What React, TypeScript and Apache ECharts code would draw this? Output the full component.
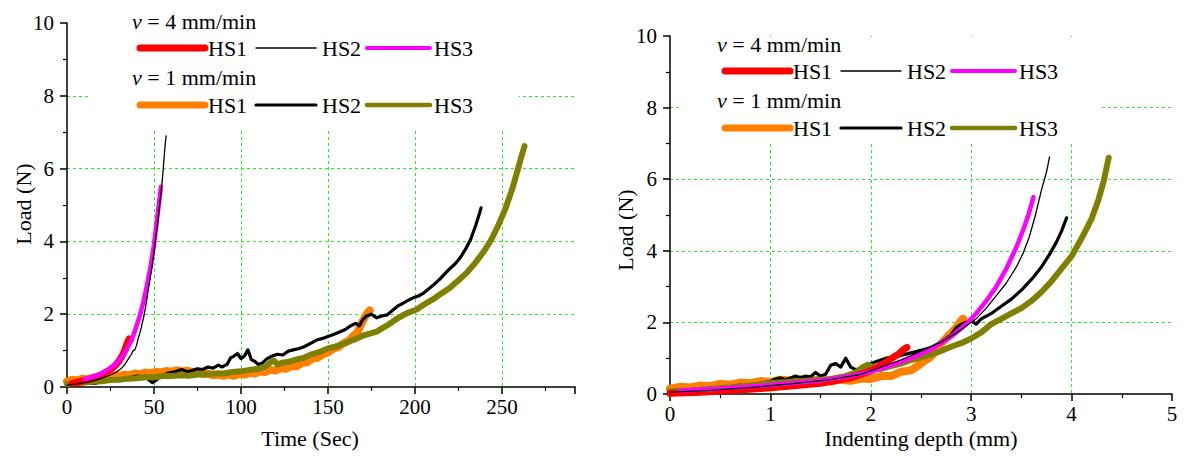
import React, { useEffect, useRef } from 'react';
import * as echarts from 'echarts';

// ---------- Data: Load (N) vs Time (Sec) ----------
const timeV4HS1 = [[3,0.1],[6,0.13],[9,0.17],[12,0.2],[15,0.24],[18,0.3],[21,0.37],[24,0.45],[26,0.52],[28,0.6],[30,0.72],[32,0.88],[33,0.98],[34,1.12],[35,1.25],[35.8,1.32],[36.3,1.28]];
const timeV4HS2 = [[0,0.05],[5,0.08],[10,0.12],[15,0.17],[20,0.24],[25,0.33],[28,0.4],[31,0.5],[33,0.6],[35,0.75],[37,0.9],[38,1.0],[39,1.02],[40,1.15],[41,1.35],[42,1.5],[43,1.7],[44,1.9],[45,2.15],[46,2.45],[47,2.75],[48,3.05],[49,3.35],[50,3.7],[51,4.1],[52,4.45],[53,4.9],[54,5.3],[55,5.8],[55.8,6.3],[56.5,6.7],[57,6.9]];
const timeV4HS3 = [[10,0.22],[14,0.27],[18,0.33],[22,0.42],[26,0.55],[29,0.68],[32,0.85],[34,1.0],[36,1.18],[38,1.4],[40,1.68],[42,1.98],[44,2.35],[46,2.8],[48,3.3],[50,3.9],[51,4.3],[52,4.7],[53,5.1],[54,5.5]];
const timeV1HS1 = [[0,0.15],[3,0.2],[6,0.18],[9,0.23],[12,0.21],[15,0.26],[18,0.24],[21,0.29],[24,0.27],[27,0.32],[30,0.3],[33,0.34],[36,0.32],[39,0.37],[42,0.35],[45,0.4],[48,0.37],[51,0.42],[54,0.4],[57,0.44],[60,0.42],[63,0.46],[66,0.43],[69,0.45],[72,0.41],[75,0.42],[78,0.36],[81,0.37],[84,0.32],[87,0.34],[90,0.31],[93,0.34],[96,0.31],[99,0.36],[102,0.34],[105,0.39],[108,0.37],[111,0.43],[114,0.41],[117,0.47],[120,0.45],[123,0.52],[126,0.5],[129,0.58],[132,0.57],[135,0.66],[138,0.68],[141,0.78],[144,0.8],[147,0.9],[150,0.95],[153,1.05],[156,1.1],[159,1.2],[162,1.27],[165,1.42],[167,1.5],[169,1.72],[171,1.9],[173,2.05],[174,2.1]];
const timeV1HS2 = [[0,0.05],[4,0.06],[8,0.1],[12,0.12],[16,0.1],[20,0.15],[24,0.18],[28,0.2],[32,0.22],[36,0.25],[40,0.3],[44,0.28],[47,0.2],[49,0.12],[51,0.18],[54,0.3],[58,0.38],[62,0.42],[66,0.48],[69,0.42],[72,0.45],[75,0.5],[78,0.48],[81,0.55],[84,0.52],[87,0.6],[89,0.55],[92,0.62],[94,0.8],[96,0.85],[98,0.92],[100,0.78],[102,0.85],[104,1.02],[106,0.75],[108,0.7],[110,0.62],[112,0.65],[115,0.78],[118,0.85],[121,0.9],[124,0.88],[127,0.98],[130,1.02],[133,1.05],[136,1.1],[140,1.2],[144,1.3],[148,1.35],[152,1.42],[156,1.5],[160,1.58],[163,1.68],[166,1.75],[168,1.68],[170,1.85],[172,1.95],[175,2.0],[178,1.9],[181,1.95],[184,1.98],[187,2.1],[190,2.22],[193,2.3],[196,2.38],[199,2.45],[202,2.5],[205,2.58],[208,2.7],[211,2.82],[214,2.95],[217,3.1],[220,3.25],[223,3.38],[226,3.55],[229,3.78],[232,4.05],[235,4.45],[237,4.75],[238,4.92]];
const timeV1HS3 = [[0,0.08],[5,0.11],[10,0.12],[15,0.15],[20,0.16],[25,0.19],[30,0.2],[35,0.23],[40,0.24],[45,0.27],[50,0.27],[55,0.3],[60,0.3],[65,0.32],[70,0.31],[75,0.34],[80,0.34],[85,0.37],[90,0.37],[95,0.41],[100,0.43],[105,0.47],[110,0.5],[114,0.56],[117,0.68],[119,0.72],[121,0.62],[124,0.67],[128,0.7],[132,0.76],[136,0.8],[140,0.89],[145,0.96],[150,1.06],[155,1.12],[160,1.21],[165,1.3],[170,1.41],[175,1.48],[178,1.52],[181,1.61],[185,1.72],[189,1.86],[193,1.97],[197,2.06],[201,2.13],[205,2.26],[210,2.4],[215,2.56],[220,2.72],[225,2.93],[230,3.15],[235,3.43],[240,3.75],[244,4.06],[248,4.45],[252,4.9],[256,5.45],[259,5.95],[261,6.3],[263,6.62]];

// ---------- Data: Load (N) vs Indenting depth (mm) ----------
const depthV4HS1 = [[0,0.02],[0.3,0.05],[0.6,0.1],[0.9,0.15],[1.2,0.22],[1.5,0.3],[1.8,0.45],[2.0,0.65],[2.1,0.8],[2.2,0.98],[2.28,1.12],[2.33,1.25],[2.36,1.3]];
const depthV4HS2 = [[0,0.05],[0.4,0.1],[0.8,0.18],[1.2,0.28],[1.6,0.4],[1.9,0.55],[2.1,0.75],[2.3,0.95],[2.5,1.2],[2.7,1.45],[2.85,1.7],[2.95,1.9],[3.05,2.1],[3.15,2.4],[3.25,2.75],[3.35,3.1],[3.45,3.55],[3.52,3.95],[3.58,4.4],[3.64,5.0],[3.7,5.7],[3.75,6.2],[3.78,6.62]];
const depthV4HS3 = [[0.1,0.1],[0.5,0.15],[1.0,0.25],[1.5,0.38],[1.8,0.5],[2.0,0.62],[2.2,0.8],[2.4,1.0],[2.6,1.25],[2.8,1.6],[2.95,1.95],[3.05,2.25],[3.15,2.6],[3.25,3.0],[3.35,3.5],[3.45,4.1],[3.52,4.6],[3.57,5.0],[3.62,5.5]];
const depthV1HS1 = [[0,0.15],[0.1,0.2],[0.2,0.18],[0.3,0.24],[0.4,0.22],[0.5,0.28],[0.6,0.26],[0.7,0.32],[0.8,0.3],[0.9,0.36],[1.0,0.34],[1.1,0.4],[1.2,0.38],[1.3,0.42],[1.4,0.38],[1.5,0.4],[1.6,0.35],[1.7,0.4],[1.8,0.37],[1.9,0.43],[2.0,0.42],[2.1,0.5],[2.2,0.5],[2.3,0.62],[2.4,0.66],[2.5,0.85],[2.6,1.05],[2.7,1.4],[2.78,1.65],[2.85,1.85],[2.9,2.05],[2.92,2.1]];
const depthV1HS2 = [[0,0.05],[0.1,0.06],[0.2,0.1],[0.3,0.12],[0.4,0.15],[0.5,0.18],[0.6,0.2],[0.7,0.25],[0.75,0.18],[0.8,0.25],[0.9,0.3],[1.0,0.35],[1.05,0.42],[1.1,0.45],[1.15,0.4],[1.2,0.45],[1.25,0.5],[1.3,0.45],[1.35,0.5],[1.4,0.48],[1.45,0.6],[1.5,0.5],[1.55,0.55],[1.6,0.8],[1.65,0.85],[1.7,0.75],[1.75,1.0],[1.8,0.75],[1.85,0.68],[1.9,0.7],[1.95,0.75],[2.0,0.85],[2.05,0.9],[2.1,0.95],[2.15,1.0],[2.2,1.02],[2.3,1.08],[2.4,1.15],[2.5,1.22],[2.6,1.3],[2.7,1.45],[2.75,1.55],[2.8,1.65],[2.85,1.85],[2.9,1.95],[3.0,2.05],[3.05,1.95],[3.1,2.1],[3.2,2.25],[3.3,2.45],[3.4,2.65],[3.5,2.9],[3.6,3.2],[3.7,3.55],[3.78,3.9],[3.85,4.25],[3.9,4.55],[3.95,4.92]];
const depthV1HS3 = [[0,0.08],[0.2,0.1],[0.4,0.14],[0.6,0.18],[0.8,0.24],[1.0,0.3],[1.2,0.34],[1.4,0.38],[1.6,0.42],[1.75,0.5],[1.85,0.6],[1.92,0.75],[1.97,0.82],[2.0,0.78],[2.05,0.72],[2.1,0.7],[2.2,0.78],[2.3,0.85],[2.4,0.95],[2.5,1.02],[2.6,1.1],[2.7,1.2],[2.8,1.32],[2.9,1.42],[3.0,1.55],[3.1,1.72],[3.2,1.95],[3.3,2.1],[3.4,2.25],[3.5,2.4],[3.6,2.6],[3.7,2.85],[3.8,3.15],[3.9,3.5],[4.0,3.85],[4.1,4.35],[4.2,4.9],[4.27,5.45],[4.32,5.95],[4.37,6.6]];

// ---------- Labels ----------
const yAxisTitle = 'Load (N)';
const xAxisTitleLeft = 'Time (Sec)';
const xAxisTitleRight = 'Indenting depth (mm)';
const speedLabels = ['4', '1'];
const specimenNames = ['HS1', 'HS2', 'HS3'];

const FONT = "'Liberation Serif', 'Times New Roman', serif";
const GRID_GREEN = '#22ee22';

export default function App() {
  const ref = useRef<HTMLDivElement>(null);

  useEffect(() => {
    const chart = echarts.init(ref.current!, null, { renderer: 'svg' });

    const axisBase = {
      axisLine: { show: true, onZero: false, lineStyle: { color: '#000', width: 1.5 } },
      axisTick: { show: true, inside: false, length: 7, lineStyle: { color: '#000', width: 1.5 } },
      minorTick: { show: true, splitNumber: 2, length: 4, lineStyle: { color: '#000', width: 1.2 } },
      splitLine: {
        show: true, showMinLine: false, showMaxLine: false,
        lineStyle: { color: GRID_GREEN, type: [3, 3], width: 1 },
      },
      axisLabel: { color: '#000', fontFamily: FONT, fontSize: 21 },
    };

    const mk = (name: string, data: number[][], color: string, width: number, idx: number) => ({
      name, type: 'line', data, xAxisIndex: idx, yAxisIndex: idx,
      showSymbol: false, symbol: 'none', silent: true,
      lineStyle: { color, width, join: 'round', cap: 'round' },
    });

    const seriesFor = (idx: number, d: number[][][]) => [
      mk('v1 ' + specimenNames[0], d[3], '#ff8000', 8, idx),
      mk('v1 ' + specimenNames[1], d[4], '#000000', 3.2, idx),
      mk('v1 ' + specimenNames[2], d[5], '#808000', 6, idx),
      mk('v4 ' + specimenNames[0], d[0], '#ff0000', 7, idx),
      mk('v4 ' + specimenNames[2], d[2], '#ff00ff', 4.5, idx),
      mk('v4 ' + specimenNames[1], d[1], '#000000', 1.3, idx),
    ];

    const txt = (text: string, x: number, y: number, size = 22) => ({
      type: 'text', z: 10, x, y,
      style: {
        text, fill: '#000', fontSize: size, fontFamily: FONT,
        align: 'left', verticalAlign: 'middle',
        textAlign: 'left', textVerticalAlign: 'middle',
        rich: { i: { fontStyle: 'italic', fontSize: size, fontFamily: FONT, fill: '#000' } },
      },
    });
    const seg = (x1: number, x2: number, y: number, color: string, w: number) => ({
      type: 'line', z: 10,
      shape: { x1, y1: y, x2, y2: y },
      style: { stroke: color, lineWidth: w, lineCap: 'round' },
    });

    const legend = (ox: number, oy: number, rect: number[]) => [
      { type: 'rect', z: 1, shape: { x: rect[0], y: rect[1], width: rect[2], height: rect[3] }, style: { fill: '#fff' } },
      txt('{i|v} = ' + speedLabels[0] + ' mm/min', ox, oy),
      seg(ox + 8, ox + 73, oy + 27, '#ff0000', 7),
      txt('{n|' + specimenNames[0] + '}', ox + 76, oy + 27),
      seg(ox + 124, ox + 184, oy + 27, '#000000', 1.3),
      txt(specimenNames[1], ox + 190, oy + 27),
      seg(ox + 235, ox + 298, oy + 27, '#ff00ff', 4),
      txt(specimenNames[2], ox + 302, oy + 27),
      txt('{i|v} = ' + speedLabels[1] + ' mm/min', ox, oy + 56),
      seg(ox + 8, ox + 73, oy + 84, '#ff8000', 7),
      txt(specimenNames[0], ox + 76, oy + 84),
      seg(ox + 124, ox + 184, oy + 84, '#000000', 3.2),
      txt(specimenNames[1], ox + 190, oy + 84),
      seg(ox + 235, ox + 298, oy + 84, '#808000', 4.5),
      txt(specimenNames[2], ox + 302, oy + 84),
    ];

    const center = (text: string, x: number, y: number, rot = 0) => ({
      type: 'text', z: 10, x, y, rotation: rot,
      style: {
        text, fill: '#000', fontSize: 22, fontFamily: FONT,
        align: 'center', verticalAlign: 'middle',
        textAlign: 'center', textVerticalAlign: 'middle',
      },
    });

    const option: any = {
      animation: false,
      backgroundColor: '#fff',
      textStyle: { fontFamily: FONT },
      grid: [
        { left: 67, top: 23, width: 508, height: 364 },
        { left: 670, top: 36, width: 502, height: 358 },
      ],
      xAxis: [
        {
          ...axisBase, type: 'value', gridIndex: 0, min: 0, max: 292, interval: 50,
          axisLabel: { ...axisBase.axisLabel, margin: 9, showMaxLabel: false },
        },
        {
          ...axisBase, type: 'value', gridIndex: 1, min: 0, max: 5, interval: 1,
          axisLabel: { ...axisBase.axisLabel, margin: 9 },
        },
      ],
      yAxis: [
        {
          ...axisBase, type: 'value', gridIndex: 0, min: 0, max: 10, interval: 2,
          axisLabel: { ...axisBase.axisLabel, margin: 13 },
        },
        {
          ...axisBase, type: 'value', gridIndex: 1, min: 0, max: 10, interval: 2,
          axisLabel: { ...axisBase.axisLabel, margin: 13 },
        },
      ],
      graphic: [
        ...legend(132, 21, [89, 0, 430, 130]),
        ...legend(717, 44, [680, 37, 420, 105]),
        center(yAxisTitle, 23, 204, Math.PI / 2),
        center(yAxisTitle, 625, 230, Math.PI / 2),
        center(xAxisTitleLeft, 310, 438),
        center(xAxisTitleRight, 921, 438),
      ],
      series: [
        ...seriesFor(0, [timeV4HS1, timeV4HS2, timeV4HS3, timeV1HS1, timeV1HS2, timeV1HS3]),
        ...seriesFor(1, [depthV4HS1, depthV4HS2, depthV4HS3, depthV1HS1, depthV1HS2, depthV1HS3]),
      ],
    };

    chart.setOption(option);
    return () => chart.dispose();
  }, []);

  return (
    <div
      ref={ref}
      style={{ position: 'fixed', left: 0, top: 0, width: 1187, height: 456, background: '#fff' }}
    />
  );
}
